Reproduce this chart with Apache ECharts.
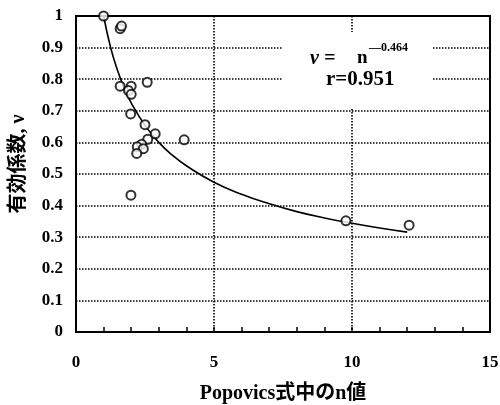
<!DOCTYPE html>
<html>
<head>
<meta charset="utf-8">
<script src="https://cdn.jsdelivr.net/npm/echarts@6/dist/echarts.min.js"></script>
<style>
  html, body { margin: 0; padding: 0; background: #fff; }
  #chart { width: 500px; height: 405px; }
</style>
</head>
<body>
<div id="chart"></div>
<script>
// Measured points: Popovics n value vs. effectiveness coefficient ν
const nValues = [1.0, 1.6, 1.65, 1.6, 2.0, 1.9, 2.0, 2.58, 1.98, 2.5, 2.87, 2.6, 3.92, 2.38, 2.22, 2.44, 2.2, 1.99, 9.78, 12.07];
const nuValues = [1.0, 0.96, 0.968, 0.778, 0.778, 0.764, 0.752, 0.79, 0.69, 0.656, 0.627, 0.61, 0.608, 0.594, 0.586, 0.58, 0.565, 0.433, 0.352, 0.338];

// Fitted curve ν = n^-0.464, sampled along its drawn path
const curveN = [1, 1.25, 1.5, 1.75, 2, 2.5, 3, 3.5, 4, 5, 6, 7, 8, 9, 10, 11, 12];
const curveNu = [1.0, 0.902, 0.829, 0.771, 0.725, 0.654, 0.600, 0.559, 0.526, 0.474, 0.436, 0.406, 0.381, 0.361, 0.344, 0.329, 0.316];

const xTicks = [0, 5, 10, 15];
const yTicks = [0, 0.1, 0.2, 0.3, 0.4, 0.5, 0.6, 0.7, 0.8, 0.9, 1];

const serif = '"Liberation Serif", "DejaVu Serif", serif';
const cjk = '"Liberation Serif", "Noto Sans CJK JP", serif';

const chart = echarts.init(document.getElementById('chart'), null, { renderer: 'canvas' });

chart.setOption({
  animation: false,
  backgroundColor: '#fff',
  grid: {
    left: 76, right: 10, top: 16, bottom: 73,
    outerBoundsMode: 'none', containLabel: false,
    show: true, borderColor: '#000', borderWidth: 2, backgroundColor: 'transparent'
  },
  xAxis: {
    type: 'value', min: xTicks[0], max: xTicks[xTicks.length - 1], interval: 5,
    name: 'Popovics式中のn値', nameLocation: 'middle', nameGap: 52,
    nameTextStyle: { fontFamily: cjk, fontWeight: 'bold', fontSize: 20, color: '#000' },
    axisLine: { show: true, onZero: false, lineStyle: { color: '#000', width: 2 } },
    axisTick: { show: true, inside: true, length: 5, lineStyle: { color: '#000', width: 1.5 } },
    minorTick: { show: true, splitNumber: 5, length: 5, lineStyle: { color: '#000', width: 1.5 } },
    axisLabel: { margin: 22, fontFamily: serif, fontWeight: 'bold', fontSize: 17, color: '#000' },
    splitLine: { show: true, lineStyle: { color: '#000', type: [1.5, 1.5], width: 1.6 } }
  },
  yAxis: {
    type: 'value', min: yTicks[0], max: yTicks[yTicks.length - 1], interval: 0.1,
    axisLine: { show: true, onZero: false, lineStyle: { color: '#000', width: 2 } },
    axisTick: { show: false },
    axisLabel: {
      margin: 13, fontFamily: serif, fontWeight: 'bold', fontSize: 17, color: '#000',
      formatter: v => String(Math.round(v * 10) / 10)
    },
    splitLine: { show: true, lineStyle: { color: '#000', type: [1.5, 1.5], width: 1.6 } }
  },
  graphic: [
    {
      // white backing behind the fit equation
      type: 'rect', z: 50,
      shape: { x: 283, y: 32, width: 149, height: 76 },
      style: { fill: '#fff' }
    },
    {
      type: 'text', z: 60, left: 310, top: 49,
      style: { text: 'ν =', font: 'italic bold 20px ' + serif, fill: '#000' }
    },
    {
      type: 'text', z: 60, left: 357, top: 49,
      style: { text: 'n', font: 'bold 19px ' + serif, fill: '#000' }
    },
    {
      type: 'text', z: 60, left: 369, top: 42,
      style: { text: '—0.464', font: 'bold 12px ' + serif, fill: '#000' }
    },
    {
      type: 'text', z: 60, left: 326, top: 69,
      style: { text: 'r=0.951', font: 'bold 21px ' + serif, fill: '#000' }
    },
    {
      type: 'text', z: 60, x: 19, y: 164, rotation: Math.PI / 2,
      style: {
        text: '有効係数, ν', font: 'bold 20px ' + cjk, fill: '#000',
        align: 'center', verticalAlign: 'middle'
      }
    }
  ],
  series: [
    {
      type: 'line', data: curveN.map((n, i) => [n, curveNu[i]]),
      smooth: true, showSymbol: false, z: 3,
      lineStyle: { color: '#000', width: 1.6 }
    },
    {
      type: 'scatter', data: nValues.map((n, i) => [n, nuValues[i]]),
      symbol: 'circle', symbolSize: 9, z: 4,
      itemStyle: { color: '#fff', borderColor: '#000', borderWidth: 2 }
    }
  ]
});
</script>
</body>
</html>
